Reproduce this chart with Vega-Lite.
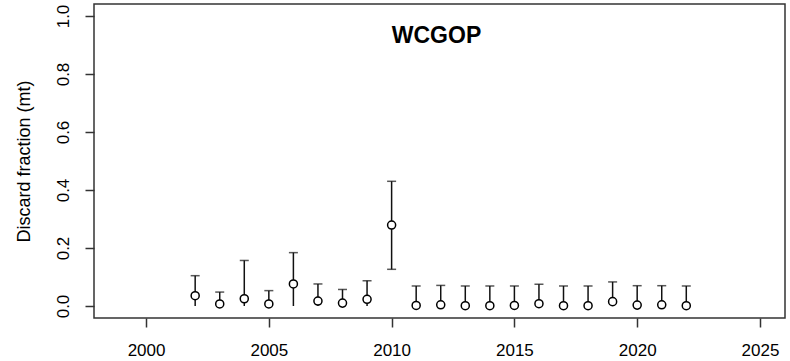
{
  "$schema": "https://vega.github.io/schema/vega-lite/v6.json",
  "autosize": "none",
  "width": 691,
  "height": 314,
  "padding": {"left": 94, "top": 4, "right": 5, "bottom": 43},
  "background": "white",
  "config": {
    "font": "Liberation Sans",
    "view": {"stroke": "#333333", "strokeWidth": 1.5},
    "axis": {"grid": false, "domain": false, "tickColor": "#333333", "tickWidth": 1.5, "tickSize": 9, "labelColor": "black", "labelFont": "Liberation Sans", "labelFontSize": 17, "titleFont": "Liberation Sans", "titleFontSize": 18, "titleFontWeight": "normal", "titleColor": "black"}
  },
  "title": {"text": "WCGOP", "font": "Liberation Sans", "fontSize": 23, "fontWeight": "bold", "color": "black", "anchor": "middle", "offset": -62, "baseline": "alphabetic", "dx": -3},
  "data": {"values": [
    {"year": 2002, "est": 0.0355, "lo": 0, "hi": 0.1045},
    {"year": 2003, "est": 0.007, "lo": 0, "hi": 0.048},
    {"year": 2004, "est": 0.025, "lo": 0, "hi": 0.157},
    {"year": 2005, "est": 0.007, "lo": 0, "hi": 0.053},
    {"year": 2006, "est": 0.076, "lo": 0, "hi": 0.184},
    {"year": 2007, "est": 0.017, "lo": 0, "hi": 0.076},
    {"year": 2008, "est": 0.010, "lo": 0, "hi": 0.057},
    {"year": 2009, "est": 0.023, "lo": 0, "hi": 0.087},
    {"year": 2010, "est": 0.279, "lo": 0.1265, "hi": 0.430},
    {"year": 2011, "est": 0.002, "lo": 0, "hi": 0.069},
    {"year": 2012, "est": 0.004, "lo": 0, "hi": 0.071},
    {"year": 2013, "est": 0.001, "lo": 0, "hi": 0.069},
    {"year": 2014, "est": 0.001, "lo": 0, "hi": 0.069},
    {"year": 2015, "est": 0.002, "lo": 0, "hi": 0.069},
    {"year": 2016, "est": 0.008, "lo": 0, "hi": 0.075},
    {"year": 2017, "est": 0.001, "lo": 0, "hi": 0.069},
    {"year": 2018, "est": 0.001, "lo": 0, "hi": 0.069},
    {"year": 2019, "est": 0.015, "lo": 0, "hi": 0.083},
    {"year": 2020, "est": 0.003, "lo": 0, "hi": 0.070},
    {"year": 2021, "est": 0.004, "lo": 0, "hi": 0.070},
    {"year": 2022, "est": 0.001, "lo": 0, "hi": 0.069}
  ]},
  "encoding": {
    "x": {"field": "year", "type": "quantitative", "scale": {"domain": [1997.88, 2026.02], "nice": false, "zero": false},
      "axis": {"title": null, "values": [2000, 2005, 2010, 2015, 2020, 2025], "format": "d", "labelPadding": 15}}
  },
  "layer": [
    {
      "mark": {"type": "rule", "color": "#bdbdbd", "strokeWidth": 1},
      "encoding": {"y": {"datum": 0, "type": "quantitative", "scale": {"domain": [-0.0414, 1.0414], "nice": false, "zero": false},
        "axis": {"title": "Discard fraction (mt)", "values": [0, 0.2, 0.4, 0.6, 0.8, 1.0], "format": ".1f", "labelAngle": -90, "labelAlign": "center", "labelBaseline": "bottom", "labelPadding": 13, "titlePadding": 21}}}
    },
    {
      "mark": {"type": "rule", "color": "#111111", "strokeWidth": 1.5},
      "encoding": {"y": {"field": "lo", "type": "quantitative"}, "y2": {"field": "hi"}}
    },
    {
      "mark": {"type": "tick", "orient": "horizontal", "color": "#111111", "thickness": 1.5, "size": 9},
      "encoding": {"y": {"field": "hi", "type": "quantitative"}}
    },
    {
      "transform": [{"filter": "datum.lo > 0"}],
      "mark": {"type": "tick", "orient": "horizontal", "color": "#111111", "thickness": 1.5, "size": 9},
      "encoding": {"y": {"field": "lo", "type": "quantitative"}}
    },
    {
      "mark": {"type": "point", "shape": "circle", "filled": false, "fill": "white", "fillOpacity": 1, "stroke": "black", "strokeWidth": 1.5, "size": 65, "opacity": 1},
      "encoding": {"y": {"field": "est", "type": "quantitative"}}
    }
  ]
}
